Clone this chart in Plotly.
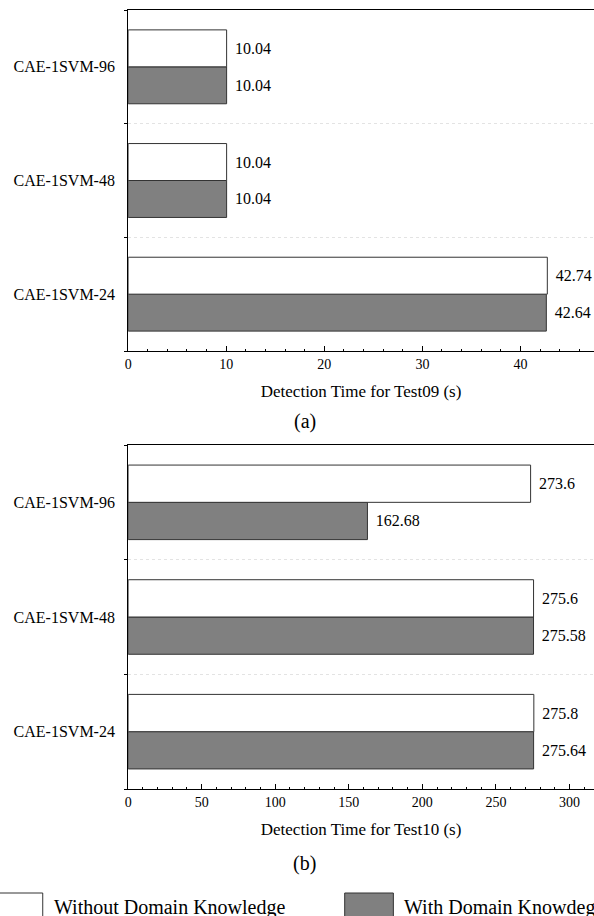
import plotly.graph_objects as go
from plotly.subplots import make_subplots

# Model variants (bottom to top)
categories = ["CAE-1SVM-24", "CAE-1SVM-48", "CAE-1SVM-96"]

# Detection time for Test09 (s)
test09_without = [42.74, 10.04, 10.04]
test09_with = [42.64, 10.04, 10.04]

# Detection time for Test10 (s)
test10_without = [275.8, 275.6, 273.6]
test10_with = [275.64, 275.58, 162.68]

series_names = ["Without Domain Knowledge", "With Domain Knowdege"]

W, H = 594, 916
FONT = "'Liberation Serif', 'Times New Roman', Times, serif"
GRAY = "#808080"

fig = make_subplots(rows=2, cols=1)


def add_panel(row, without_vals, with_vals):
    # "With" trace goes first so that it sits below in each horizontal group
    for vals, name, color in [(with_vals, series_names[1], GRAY),
                              (without_vals, series_names[0], "white")]:
        fig.add_trace(go.Bar(
            y=categories, x=vals, orientation="h", name=name,
            marker=dict(color=color, line=dict(color="#333333", width=1)),
            texttemplate="\u2004%{x}", textposition="outside", cliponaxis=False,
            constraintext="none",
            textfont=dict(family=FONT, size=16, color="black"),
            showlegend=False,
        ), row=row, col=1)


add_panel(1, test09_without, test09_with)
add_panel(2, test10_without, test10_with)


def px_x(x):
    return x / W


def px_y(y):
    return 1 - y / H


x_dom = [px_x(125), 1.0]

axis_font = dict(family=FONT, size=14, color="black")
cat_font = dict(family=FONT, size=16, color="black")
title_font = dict(family=FONT, size=17, color="black")


def value_axis(rng, major, minor, title):
    return dict(
        domain=x_dom, range=rng, dtick=major, tick0=0,
        ticks="inside", ticklen=5, tickcolor="black",
        minor=dict(dtick=minor, ticks="inside", ticklen=2.5, tickcolor="black", showgrid=False),
        showline=True, linecolor="black", linewidth=1, mirror=True,
        showgrid=False, zeroline=False, tickfont=axis_font,
        title=dict(text=title, font=title_font, standoff=14),
    )


def category_axis(top_px, bottom_px):
    return dict(
        domain=[px_y(bottom_px), px_y(top_px)], type="category", range=[-0.5, 2.5],
        tickson="boundaries", ticks="outside", ticklen=3, tickcolor="black",
        showline=True, linecolor="black", linewidth=1,
        showgrid=True, gridcolor="#e3e3e3", griddash="dot", gridwidth=1,
        tickfont=cat_font, ticklabelstandoff=9,
    )


fig.update_layout(
    width=W, height=H,
    margin=dict(l=0, r=0, t=0, b=0),
    paper_bgcolor="white", plot_bgcolor="white",
    barmode="group", bargap=0.35, bargroupgap=0,
    showlegend=False,
    font=dict(family=FONT, color="black"),
    xaxis=value_axis([0, 47.5], 10, 2, "Detection Time for Test09 (s)"),
    yaxis=category_axis(10, 351),
    xaxis2=value_axis([0, 316.7], 50, 10, "Detection Time for Test10 (s)"),
    yaxis2=category_axis(445, 789),
)

# Panel captions
for label, y in [("(a)", 421), ("(b)", 863)]:
    fig.add_annotation(
        text=label, x=px_x(303), y=px_y(y), xref="paper", yref="paper",
        showarrow=False, xanchor="center", yanchor="middle",
        font=dict(family=FONT, size=20, color="black"),
    )

# Shared legend along the bottom edge
legend_items = [
    ("white", -10, 39, 48, series_names[0]),
    (GRAY, 343, 392, 401, series_names[1]),
]
for color, x0, x1, tx, text in legend_items:
    fig.add_shape(
        type="rect", xref="paper", yref="paper",
        x0=px_x(x0), x1=px_x(x1), y0=px_y(940), y1=px_y(893),
        fillcolor=color, line=dict(color="#333333", width=1), layer="above",
    )
    fig.add_annotation(
        text=text, x=px_x(tx), y=px_y(907), xref="paper", yref="paper",
        showarrow=False, xanchor="left", yanchor="middle",
        font=dict(family=FONT, size=20, color="black"),
    )

fig.write_html("out.html")
